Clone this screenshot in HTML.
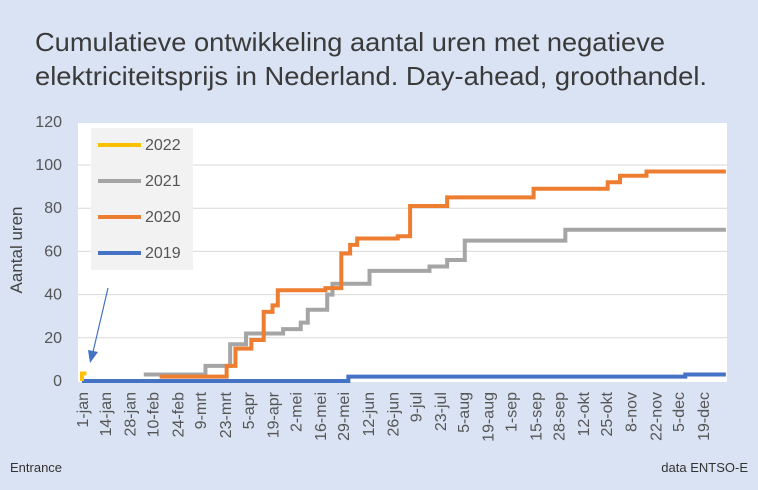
<!DOCTYPE html>
<html><head><meta charset="utf-8"><style>
html,body{margin:0;padding:0;background:#dae3f3;}
svg{display:block;font-family:"Liberation Sans",sans-serif;}
</style></head><body>
<svg id="s" width="758" height="490" xmlns="http://www.w3.org/2000/svg">
<rect width="758" height="490" fill="#dae3f3"/>
<text x="35" y="51" font-size="26" fill="#3a3a3a" textLength="630" lengthAdjust="spacingAndGlyphs">Cumulatieve ontwikkeling aantal uren met negatieve</text>
<text x="35" y="85" font-size="26" fill="#3a3a3a" textLength="672" lengthAdjust="spacingAndGlyphs">elektriciteitsprijs in Nederland. Day-ahead, groothandel.</text>
<rect x="78" y="123" width="649" height="259" fill="#fff"/>
<g id="grid" stroke="#d9d9d9" stroke-width="1"></g>
<g id="yl" font-size="16" fill="#555" text-anchor="end"></g>
<text transform="translate(22,250) rotate(-90)" font-size="17" fill="#444" text-anchor="middle">Aantal uren</text>
<g id="xl" font-size="16" fill="#555"></g>
<g id="series" fill="none" stroke-width="4" stroke-linejoin="miter"></g>
<rect x="91" y="128" width="102" height="142" fill="#f2f2f2"/>
<g font-size="16" fill="#555">
<line x1="98" y1="145" x2="141" y2="145" stroke="#ffc000" stroke-width="4"/><text x="145" y="150">2022</text>
<line x1="98" y1="181" x2="141" y2="181" stroke="#a5a5a5" stroke-width="4"/><text x="145" y="186">2021</text>
<line x1="98" y1="217" x2="141" y2="217" stroke="#ed7d31" stroke-width="4"/><text x="145" y="222">2020</text>
<line x1="98" y1="253" x2="141" y2="253" stroke="#4472c4" stroke-width="4"/><text x="145" y="258">2019</text>
</g>
<line x1="108" y1="288" x2="93" y2="352" stroke="#4472c4" stroke-width="1.2"/>
<polygon points="88,350 98,352 90,363" fill="#4472c4"/>
<text x="10" y="472" font-size="13" fill="#333">Entrance</text>
<text x="748" y="472" font-size="13" fill="#333" text-anchor="end">data ENTSO-E</text>
</svg>
<script>
var NS="http://www.w3.org/2000/svg";
function X(d){return 82+1.764*d;}
function Y(v){return 381-2.16*v;}
function el(t,a,p){var e=document.createElementNS(NS,t);for(var k in a)e.setAttribute(k,a[k]);document.getElementById(p).appendChild(e);return e;}
for(var v=20;v<=100;v+=20)el('line',{x1:78,x2:727,y1:Y(v),y2:Y(v)},'grid');
for(var v=0;v<=120;v+=20){var t=el('text',{x:62,y:Y(v)+5},'yl');t.textContent=v;}
var labs=[["1-jan",0],["14-jan",13],["28-jan",27],["10-feb",40],["24-feb",54],["9-mrt",67],["23-mrt",81],["5-apr",94],["19-apr",108],["2-mei",121],["16-mei",135],["29-mei",148],["12-jun",162],["26-jun",176],["9-jul",189],["23-jul",203],["5-aug",216],["19-aug",230],["1-sep",243],["15-sep",257],["28-sep",270],["12-okt",284],["25-okt",297],["8-nov",311],["22-nov",325],["5-dec",338],["19-dec",352]];
labs.forEach(function(l){var x=X(l[1])+6;var t=el('text',{transform:'translate('+x+',392) rotate(-90)','text-anchor':'end'},'xl');t.textContent=l[0];});
function step(pts,end,col){var d='M'+X(pts[0][0])+','+Y(pts[0][1]);for(var i=1;i<pts.length;i++){d+=' H'+X(pts[i][0])+' V'+Y(pts[i][1]);}d+=' H'+X(end);el('path',{d:d,stroke:col},'series');}
step([[0,0],[151,2],[342,3]],365,'#4472c4');
step([[35,3],[70,7],[84,17],[93,22],[114,24],[124,27],[128,33],[139,40],[142,45],[163,51],[197,53],[207,56],[217,65],[274,70]],365,'#a5a5a5');
step([[44,2],[82,7],[87,15],[96,19],[103,32],[108,35],[111,42],[138,43],[147,59],[152,63],[156,66],[179,67],[186,81],[207,85],[256,89],[298,92],[305,95],[320,97]],365,'#ed7d31');
el('path',{d:'M'+X(0)+','+Y(0)+' V'+Y(3.5)+' H'+X(2.5),stroke:'#ffc000'},'series');
</script>
</body></html>
